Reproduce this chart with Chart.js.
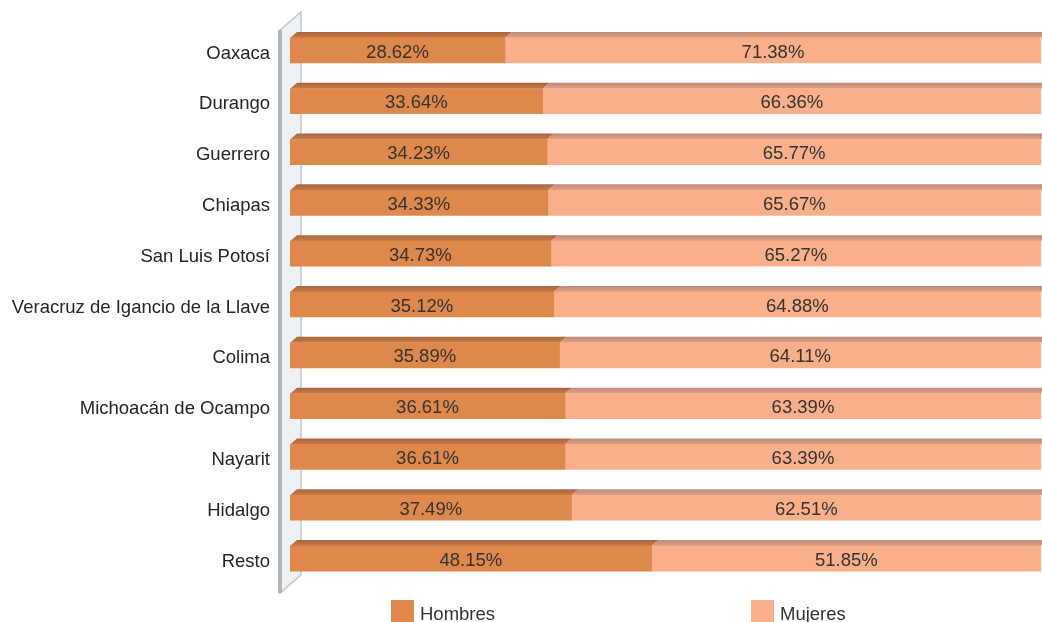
<!DOCTYPE html>
<html>
<head>
<meta charset="utf-8">
<script src="https://cdn.jsdelivr.net/npm/chart.js@4/dist/chart.umd.min.js"></script>
<style>
  html, body { margin: 0; padding: 0; background: #fff; }
  #wrap { width: 1042px; height: 622px; position: relative; }
</style>
</head>
<body>
<div id="wrap"><canvas id="chart"></canvas></div>
<script>
// Estados y porcentajes por sexo
const ESTADOS = [
  "Oaxaca",
  "Durango",
  "Guerrero",
  "Chiapas",
  "San Luis Potosí",
  "Veracruz de Igancio de la Llave",
  "Colima",
  "Michoacán de Ocampo",
  "Nayarit",
  "Hidalgo",
  "Resto",
];
const HOMBRES = [28.62, 33.64, 34.23, 34.33, 34.73, 35.12, 35.89, 36.61, 36.61, 37.49, 48.15];
const MUJERES = [71.38, 66.36, 65.77, 65.67, 65.27, 64.88, 64.11, 63.39, 63.39, 62.51, 51.85];

const FONT = "'Liberation Sans', Arial, sans-serif";
const COLORES = {
  hombres: { frente: "#DF884B", tapa: ["#A86640", "#C97A46"] },
  mujeres: { frente: "#F8AF8A", tapa: ["#BE8C7A", "#E0A086"] },
};

// Pared gris a la izquierda (efecto 3D)
const paredPlugin = {
  id: "pared",
  beforeDatasetsDraw(chart) {
    const { ctx, chartArea } = chart;
    const x0 = chartArea.left - 10;
    const top = chartArea.top + 5;
    const bottom = chartArea.bottom + 9;
    ctx.save();
    ctx.fillStyle = "#EEF1F3";
    ctx.beginPath();
    ctx.moveTo(x0, top);
    ctx.lineTo(x0 + 21, top - 18);
    ctx.lineTo(x0 + 21, bottom - 18);
    ctx.lineTo(x0, bottom);
    ctx.closePath();
    ctx.fill();
    ctx.strokeStyle = "#C4C7CA";
    ctx.lineWidth = 1.5;
    ctx.stroke();
    ctx.fillStyle = "#B3B6B9";
    ctx.fillRect(x0 - 2, top, 4, bottom - top);
    ctx.restore();
  },
};

// Cara superior de cada barra
const tapasPlugin = {
  id: "tapas",
  beforeDatasetsDraw(chart) {
    const { ctx } = chart;
    const dx = 7, dy = 6;
    ctx.save();
    chart.data.datasets.forEach((ds, i) => {
      const meta = chart.getDatasetMeta(i);
      const c = i === 0 ? COLORES.hombres : COLORES.mujeres;
      meta.data.forEach((bar) => {
        const y = bar.y - bar.height / 2;
        const g = ctx.createLinearGradient(0, y - dy, 0, y);
        g.addColorStop(0, c.tapa[0]);
        g.addColorStop(1, c.tapa[1]);
        ctx.fillStyle = g;
        ctx.beginPath();
        ctx.moveTo(bar.base, y);
        ctx.lineTo(bar.base + dx, y - dy);
        ctx.lineTo(bar.x + dx, y - dy);
        ctx.lineTo(bar.x, y);
        ctx.closePath();
        ctx.fill();
      });
    });
    ctx.restore();
  },
};

// Etiquetas de porcentaje dentro de los segmentos
const valoresPlugin = {
  id: "valores",
  afterDatasetsDraw(chart) {
    const { ctx } = chart;
    ctx.save();
    ctx.font = `18.5px ${FONT}`;
    ctx.fillStyle = "#333";
    ctx.textAlign = "center";
    ctx.textBaseline = "middle";
    chart.data.datasets.forEach((ds, i) => {
      chart.getDatasetMeta(i).data.forEach((bar, j) => {
        const v = ds.data[j];
        ctx.fillText(v.toFixed(2) + "%", (bar.x + bar.base) / 2, bar.y + 2);
      });
    });
    ctx.restore();
  },
};

// Leyenda inferior
const leyendaPlugin = {
  id: "leyenda",
  afterDraw(chart) {
    const { ctx } = chart;
    const items = [
      { x: 391, ds: 0 },
      { x: 751, ds: 1 },
    ];
    ctx.save();
    ctx.font = `18.5px ${FONT}`;
    ctx.textBaseline = "alphabetic";
    items.forEach((it) => {
      const ds = chart.data.datasets[it.ds];
      ctx.fillStyle = ds.backgroundColor;
      ctx.fillRect(it.x, 600, 23, 22);
      ctx.fillStyle = "#333";
      ctx.fillText(ds.label, it.x + 29, 620);
    });
    ctx.restore();
  },
};

new Chart(document.getElementById("chart"), {
  type: "bar",
  data: {
    labels: ESTADOS,
    datasets: [
      {
        label: "Hombres",
        data: HOMBRES,
        backgroundColor: COLORES.hombres.frente,
        barThickness: 25,
      },
      {
        label: "Mujeres",
        data: MUJERES,
        backgroundColor: COLORES.mujeres.frente,
        barThickness: 25,
      },
    ],
  },
  options: {
    indexAxis: "y",
    responsive: true,
    maintainAspectRatio: false,
    animation: false,
    layout: {
      padding: { top: 25, right: 1, bottom: 38, left: 0 },
    },
    plugins: {
      legend: { display: false },
      tooltip: { enabled: false },
    },
    scales: {
      x: {
        stacked: true,
        min: 0,
        max: 100,
        display: false,
      },
      y: {
        stacked: true,
        grid: { display: false, drawTicks: false },
        border: { display: false },
        afterFit(scale) {
          // ancho fijo del eje y sin margen extra arriba/abajo
          scale.width = 290;
          scale.paddingTop = 0;
          scale.paddingBottom = 0;
        },
        ticks: {
          padding: 20,
          labelOffset: 3,
          color: "#262626",
          font: { family: FONT, size: 18.5 },
        },
      },
    },
  },
  plugins: [paredPlugin, tapasPlugin, valoresPlugin, leyendaPlugin],
});
</script>
</body>
</html>
